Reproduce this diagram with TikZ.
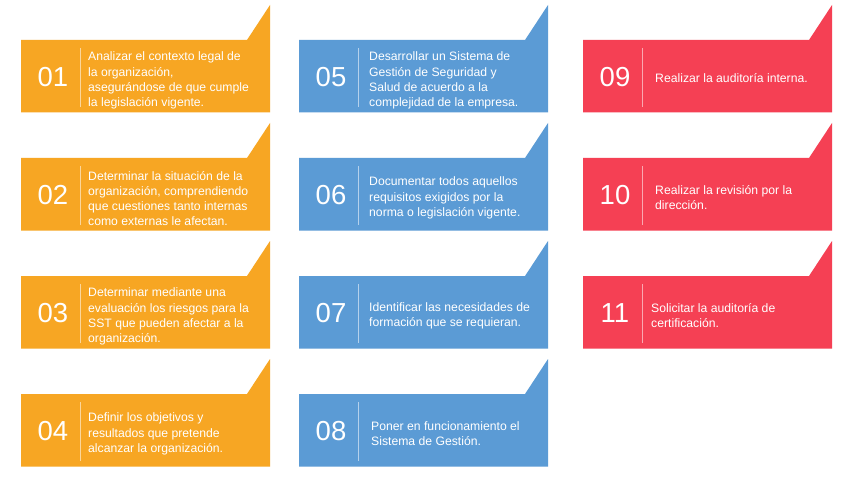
\documentclass[tikz,border=0pt]{standalone}
\usepackage{fontspec}
\setmainfont{Liberation Sans}
\definecolor{cardorange}{RGB}{247,166,35}
\definecolor{cardblue}{RGB}{91,155,213}
\definecolor{cardred}{RGB}{245,64,84}
\tikzset{
  numtext/.style={text=white, font=\fontsize{27.5}{27.5}\selectfont, inner sep=0pt},
  bodytext/.style={text=white, font=\fontsize{12.2}{15.2}\selectfont, align=left, anchor=west, inner sep=0pt},
  divider/.style={draw=white, draw opacity=0.55, line width=0.8pt},
}
% #1 id, #2 left, #3 top, #4 colour, #5 number, #6 text x offset, #7 text y offset, #8 text
\newcommand\stepcard[8]{%
  \fill[#4] (#2,#3) -- ++(226,0) -- ++(23,-35) -- ++(0,107.5) -- ++(-249,0) -- cycle;
  \node[numtext] (n#1) at (#2+32,#3+37) {#5};
  \draw[divider] (#2+59,#3+8) -- (#2+59,#3+67);
  \node[bodytext] (t#1) at (#2+#6,#3+#7) {#8};
}
\begin{document}
\begin{tikzpicture}[x=1pt,y=-1pt]
  \useasboundingbox[fill=white] (0,0) rectangle (850,478);
  \stepcard{a}{21}{40}{cardorange}{01}{67}{40.5}{Analizar el contexto legal de\\la organización,\\asegurándose de que cumple\\la legislación vigente.}
  \stepcard{b}{21}{158}{cardorange}{02}{67}{40.5}{Determinar la situación de la\\organización, comprendiendo\\que cuestiones tanto internas\\como externas le afectan.}
  \stepcard{c}{21}{276}{cardorange}{03}{67}{40.5}{Determinar mediante una\\evaluación los riesgos para la\\SST que pueden afectar a la\\organización.}
  \stepcard{d}{21}{394}{cardorange}{04}{67}{40}{Definir los objetivos y\\resultados que pretende\\alcanzar la organización.}
  \stepcard{e}{299}{40}{cardblue}{05}{70}{40.5}{Desarrollar un Sistema de\\Gestión de Seguridad y\\Salud de acuerdo a la\\complejidad de la empresa.}
  \stepcard{f}{299}{158}{cardblue}{06}{70}{40}{Documentar todos aquellos\\requisitos exigidos por la\\norma o legislación vigente.}
  \stepcard{g}{299}{276}{cardblue}{07}{70}{39.5}{Identificar las necesidades de\\formación que se requieran.}
  \stepcard{h}{299}{394}{cardblue}{08}{72}{40}{Poner en funcionamiento el\\Sistema de Gestión.}
  \stepcard{i}{583}{40}{cardred}{09}{72}{38}{Realizar la auditoría interna.}
  \stepcard{j}{583}{158}{cardred}{10}{72}{39.5}{Realizar la revisión por la\\dirección.}
  \stepcard{k}{583}{276}{cardred}{11}{68}{39.5}{Solicitar la auditoría de\\certificación.}
\end{tikzpicture}
\end{document}
